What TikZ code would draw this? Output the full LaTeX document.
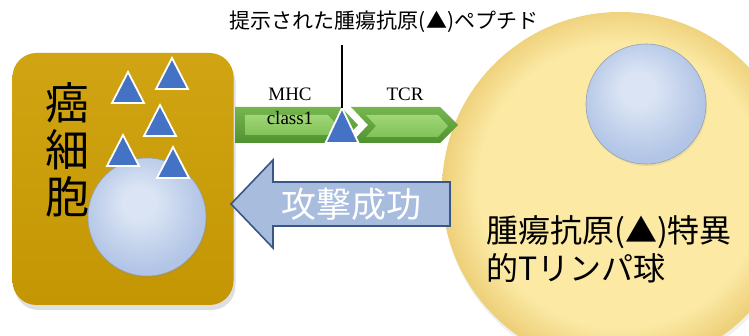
\documentclass[tikz,border=0pt]{standalone}
\usepackage{fontspec}
\setmainfont{Liberation Serif}
\newfontfamily\jp{Noto Sans CJK JP}
\usetikzlibrary{shadows}

% colours
\definecolor{cellgold}{RGB}{196,150,4}
\definecolor{cellgoldhi}{RGB}{208,164,18}
\definecolor{antigen}{RGB}{68,114,196}
\definecolor{grD}{RGB}{80,146,48}
\definecolor{grDtop}{RGB}{118,182,78}
\definecolor{grL}{RGB}{128,194,86}
\definecolor{grLtop}{RGB}{160,214,120}
\definecolor{atkfill}{RGB}{168,188,222}
\definecolor{atkline}{RGB}{58,86,134}
\definecolor{tcin}{RGB}{251,233,164}
\definecolor{tcout}{RGB}{238,208,122}
\definecolor{nucA}{RGB}{218,228,244}
\definecolor{nucB}{RGB}{178,197,230}
\definecolor{nucedge}{RGB}{150,160,175}

% radial fills for the round bodies
\pgfdeclareradialshading{tcellshade}{\pgfpoint{0bp}{1bp}}{%
  color(0bp)=(tcin); color(20bp)=(tcin); color(25bp)=(tcout); color(50bp)=(tcout)}
\pgfdeclareradialshading{nucshade}{\pgfpoint{-4bp}{7bp}}{%
  color(0bp)=(nucA); color(7bp)=(nucA); color(26bp)=(nucB); color(50bp)=(nucB)}

\tikzset{
  cellbox/.style={rectangle, rounded corners=24pt, minimum width=221pt,
    minimum height=252pt, inner sep=0pt, top color=cellgoldhi, bottom color=cellgold,
    drop shadow={opacity=0.25, shadow xshift=2pt, shadow yshift=-5pt}},
  nucleus/.style={circle, inner sep=0pt, shading=nucshade, draw=nucedge,
    line width=0.6pt, drop shadow={opacity=0.15, shadow xshift=1pt, shadow yshift=-2pt}},
  tri/.style={fill=antigen, draw=white, line width=1.8pt, line join=miter},
  antigen/.pic={\path[tri] (0,0) -- (16,31) -- (-16,31) -- cycle;},
  outerarrow/.style={top color=grDtop, bottom color=grD},
  innerarrow/.style={top color=grLtop, bottom color=grL},
  latin/.style={font=\fontsize{19}{19}\selectfont, inner sep=0pt},
  jplabel/.style={font=\jp\fontsize{21}{21}\selectfont, inner sep=0pt},
}

\begin{document}
\begin{tikzpicture}[x=1pt, y=-1pt]
\useasboundingbox (0,0) rectangle (749,336);

% T lymphocyte body and its nucleus
\path[shading=tcellshade, drop shadow={opacity=0.12, shadow xshift=1pt, shadow yshift=-4pt}]
  (620,190) circle (178);
\node[nucleus, minimum size=120pt] (tnuc) at (646,104) {};
\node[anchor=west, align=left, inner sep=0pt,
      font=\jp\fontsize{32}{38}\selectfont] (tlabel) at (486,249)
  {腫瘍抗原(▲)特異\\的Tリンパ球};

% cancer cell
\node[cellbox] (cell) at (123,179) {};
\node[align=center, inner sep=0pt, font=\jp\fontsize{44}{47}\selectfont] (celllabel)
  at (67,150) {癌\\細\\胞};
\node[nucleus, minimum size=118pt] (cnuc) at (147,217) {};
\pic at (128,72) {antigen};
\pic at (172,58) {antigen};
\pic at (160,105) {antigen};
\pic at (123,135) {antigen};
\pic at (173,147) {antigen};

% MHC class I molecule
\path[outerarrow] (235,107) -- (341,107) -- (358,125) -- (341,143) -- (235,143) -- cycle;
\path[innerarrow] (245,115) -- (328,115) -- (337,125) -- (328,135) -- (245,135) -- cycle;
% T cell receptor
\path[outerarrow] (351,107) -- (440,107) -- (458,125) -- (440,143) -- (351,143) -- (368,125) -- cycle;
\path[innerarrow] (366,115) -- (438,115) -- (448,126) -- (438,137) -- (366,137) -- (376,126) -- cycle;

\node[latin] (mhc) at (290,94) {MHC};
\node[latin] (cls) at (290,118) {class1};
\node[latin] (tcr) at (405,94) {TCR};

% presented peptide and its label
\coordinate (pep) at (342,108);
\path[tri] (pep) -- (358.5,143) -- (325.5,143) -- cycle;
\node[jplabel] (peplabel) at (384,22) {提示された腫瘍抗原(▲)ペプチド};
\coordinate (stem) at (342,45);
\draw[line width=2pt] (stem) -- (pep);

% attack arrow
\path[fill=atkfill, draw=atkline, line width=1.6pt, line join=miter]
  (231,204) -- (273,160) -- (273,182) -- (450,182) -- (450,226) -- (273,226) -- (273,248) -- cycle;
\node[text=white, inner sep=0pt, font=\jp\fontsize{35}{35}\selectfont] (attack)
  at (351,204) {攻撃成功};
\end{tikzpicture}
\end{document}
